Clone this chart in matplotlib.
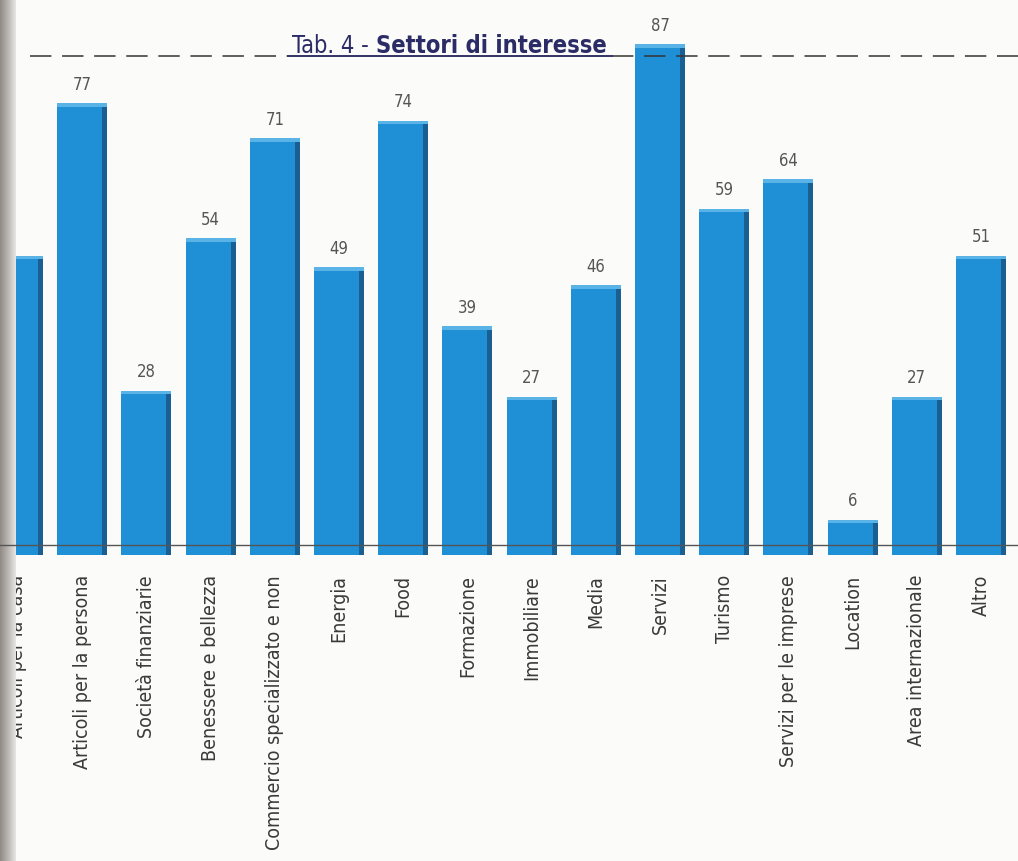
import matplotlib
matplotlib.use("Agg")
import matplotlib.pyplot as plt
import numpy as np
from matplotlib.lines import Line2D
from matplotlib import font_manager
from matplotlib.font_manager import FontProperties

categories = ["Articoli per la casa", "Articoli per la persona", "Società finanziarie",
              "Benessere e bellezza", "Commercio specializzato e non", "Energia", "Food",
              "Formazione", "Immobiliare", "Media", "Servizi", "Turismo",
              "Servizi per le imprese", "Location", "Area internazionale", "Altro"]
values = [51, 77, 28, 54, 71, 49, 74, 39, 27, 46, 87, 59, 64, 6, 27, 51]
show_value = [False] + [True] * 15
title_regular = "Tab. 4 - "
title_bold = "Settori di interesse"


def find_font(bold=False):
    cands = []
    for f in font_manager.fontManager.ttflist:
        fn = f.fname.lower()
        if ("condensed" in fn or "narrow" in fn) and fn.endswith((".ttf", ".otf")):
            isbold = "bold" in fn
            if isbold == bold and "oblique" not in fn and "italic" not in fn:
                cands.append(f.fname)
    cands.sort(key=lambda s: (0 if "dejavusans" in s.lower().replace("-", "") else 1, s))
    return cands[0] if cands else None


reg = find_font(False)
bld = find_font(True)


def fp(size, bold=False):
    path = bld if bold else reg
    if path:
        return FontProperties(fname=path, size=size)
    return FontProperties(family="DejaVu Sans", size=size * 0.9,
                          weight="bold" if bold else "normal")


W, H = 1018, 861
fig = plt.figure(figsize=(W / 100, H / 100), dpi=100)
fig.patch.set_facecolor("#fbfbfa")

px_per_unit_x = 64.2
xmin = -18 / px_per_unit_x
xmax = xmin + W / px_per_unit_x
ax = fig.add_axes([0, 306 / H, 1, 90 * 5.87 / H])
ax.set_xlim(xmin, xmax)
ax.set_ylim(0, 90)
ax.axis("off")

x = np.arange(len(categories))
bw = 0.78
ax.bar(x, values, width=bw, color="#1f8fd6", edgecolor="none", zorder=3)
ax.bar(x + bw / 2 - 0.04, values, width=0.08, color="#1a5e92", edgecolor="none", zorder=4)
ax.bar(x, [0.6] * len(x), bottom=np.array(values) - 0.6, width=bw, color="#5ab3e6",
       edgecolor="none", zorder=5)

for xi, v, s in zip(x, values, show_value):
    if s:
        ax.text(xi, v + 1.6, str(v), ha="center", va="bottom",
                fontproperties=fp(12), color="#555555", zorder=6)
    ax.text(xi, -3.4, categories[xi], rotation=90, ha="center", va="top",
            fontproperties=fp(14), color="#3a3a3a", clip_on=False)

fig.add_artist(Line2D([0.0, 1.0], [1 - 545 / H, 1 - 545 / H], color="#555555", lw=1.0,
                      transform=fig.transFigure, zorder=1))
ty = 1 - 56 / H
fig.add_artist(Line2D([30 / W, 288 / W], [ty, ty], color="#333333", lw=1.1,
                      ls=(0, (14, 7)), transform=fig.transFigure))
fig.add_artist(Line2D([612 / W, 1.0], [ty, ty], color="#333333", lw=1.1,
                      ls=(0, (14, 7)), transform=fig.transFigure))
fig.add_artist(Line2D([288 / W, 612 / W], [ty, ty], color="#333366", lw=1.4,
                      transform=fig.transFigure))

t1 = fig.text(292 / W, ty + 3 / H, title_regular, fontproperties=fp(17),
              color="#2b2b66", ha="left", va="baseline")
fig.canvas.draw()
bb = t1.get_window_extent()
fig.text(bb.x1 / W, ty + 3 / H, title_bold, fontproperties=fp(17, True),
         color="#2b2b66", ha="left", va="baseline")

sh = fig.add_axes([0, 0, 16 / W, 1])
grad = np.linspace(0, 1, 64)[None, :]
sh.imshow(grad, aspect="auto", cmap=matplotlib.colors.LinearSegmentedColormap.from_list(
    "s", ["#8f8a86", "#b9b5b1", "#e8e6e4"]), extent=[0, 1, 0, 1])
sh.axis("off")

fig.savefig("out.png", dpi=100, facecolor=fig.get_facecolor())
